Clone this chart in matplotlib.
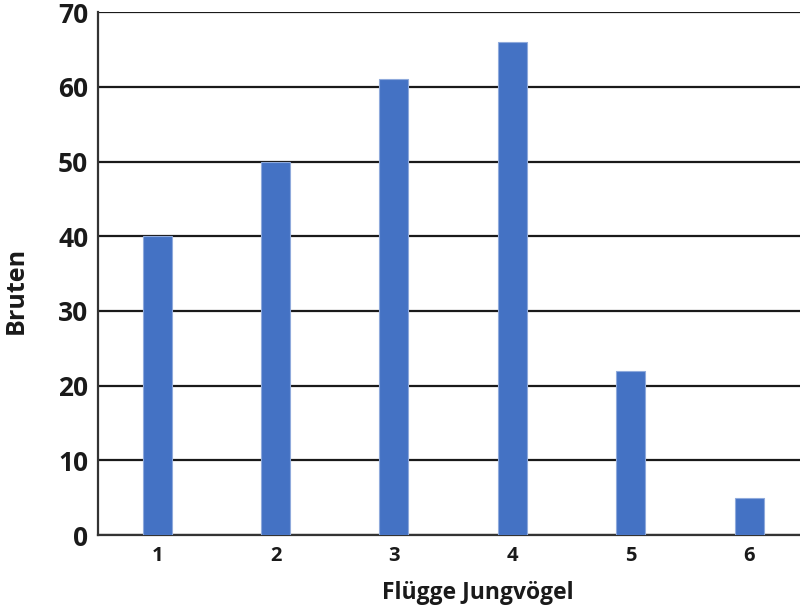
import matplotlib
matplotlib.use("Agg")
import matplotlib.pyplot as plt

plt.rcParams['font.family'] = ['Open Sans', 'DejaVu Sans']

junge = [1, 2, 3, 4, 5, 6]
bruten = [40, 50, 61, 66, 22, 5]
y_ticks = [0, 10, 20, 30, 40, 50, 60, 70]

fig = plt.figure(figsize=(8, 6.06), dpi=100)
ax = fig.add_axes([0.1225, 0.117, 0.8775, 0.863])

ax.bar(junge, bruten, width=0.245, color='#4472C4', edgecolor='#8FAADC',
       linewidth=0.8, zorder=3)

ax.set_xlim(0.5, 6.43)
ax.set_ylim(0, 70)
ax.set_yticks(y_ticks)
ax.set_xticks(junge)
ax.yaxis.grid(True, color='#1a1a1a', linewidth=1.6, zorder=0)
ax.set_axisbelow(True)

for side in ['top', 'right']:
    ax.spines[side].set_visible(False)
for side in ['left', 'bottom']:
    ax.spines[side].set_linewidth(1.6)
    ax.spines[side].set_color('#333333')

ax.tick_params(axis='y', length=0, pad=7, labelsize=19, colors='#1a1a1a')
ax.tick_params(axis='x', length=0, pad=8, labelsize=14.5, colors='#1a1a1a')
for lbl in ax.get_xticklabels() + ax.get_yticklabels():
    lbl.set_fontweight('bold')

ax.set_xlabel('Flügge Jungvögel', fontsize=16.5, fontweight='bold',
              color='#1a1a1a')
ax.xaxis.set_label_coords(0.541, -0.087)
ax.set_ylabel('Bruten', fontsize=18, fontweight='bold', color='#1a1a1a')
ax.yaxis.set_label_coords(-0.099, 0.467)

fig.savefig('out.png', dpi=100)
